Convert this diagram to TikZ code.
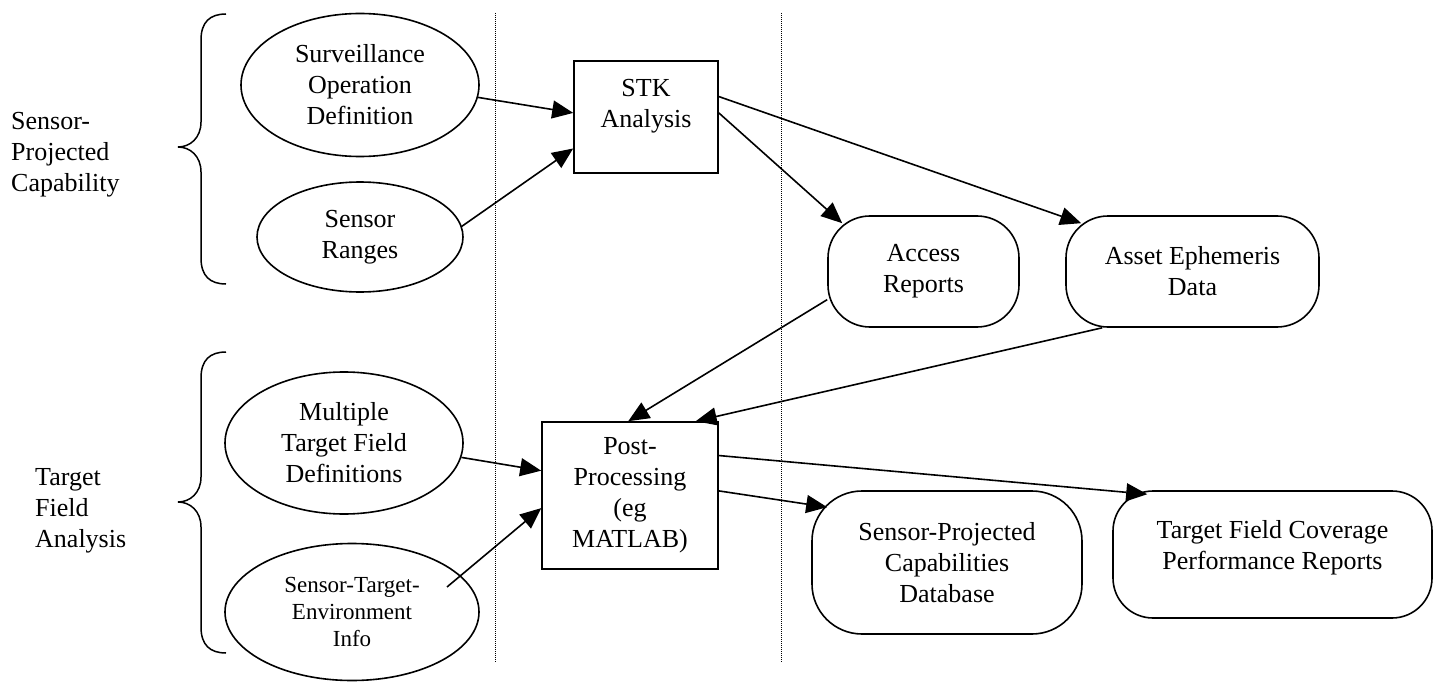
\documentclass[tikz,border=0pt]{standalone}
\usepackage{fontspec}
\setmainfont{Liberation Serif}
\usetikzlibrary{shapes.geometric,arrows.meta,calc}
\begin{document}
\begin{tikzpicture}[x=1pt,y=-1pt,
  every node/.style={font=\fontsize{26}{31}\selectfont, align=center},
  ell/.style={draw, ellipse, line width=1.6pt, inner sep=0pt},
  sqbox/.style={draw, rectangle, line width=1.6pt, inner sep=0pt},
  rbox/.style={draw, rectangle, rounded corners=42pt, line width=1.6pt, inner sep=0pt},
  conn/.style={line width=1.6pt, -{Triangle[length=21pt,width=18pt]}},
  sepline/.style={line width=0.9pt, dash pattern=on 1pt off 1pt},
  brc/.style={line width=1.5pt}]
\useasboundingbox (0,0) rectangle (1436,682);

% separators
\draw[sepline] (495,13) -- (495,663);
\draw[sepline] (781,13) -- (781,663);

% left labels
\node[anchor=west, align=left, inner sep=0pt] (lab1) at (11,155) {Sensor-\\Projected\\Capability};
\node[anchor=west, align=left, inner sep=0pt] (lab2) at (35,511) {Target\\Field\\Analysis};

% braces
\draw[brc] (226,14) .. controls (210,14) and (201,22) .. (201,40) -- (201,122)
  .. controls (201,138) and (190,147) .. (178,147)
  .. controls (190,147) and (201,156) .. (201,172) -- (201,258)
  .. controls (201,276) and (210,284) .. (226,284);
\draw[brc] (226,352) .. controls (210,352) and (201,360) .. (201,378) -- (201,477)
  .. controls (201,493) and (190,502) .. (178,502)
  .. controls (190,502) and (201,511) .. (201,527) -- (201,627)
  .. controls (201,645) and (210,653) .. (226,653);

% ellipses
\node[ell, minimum width=238pt, minimum height=143pt] (surv) at (360,85) {Surveillance\\Operation\\Definition};
\node[ell, minimum width=206pt, minimum height=110pt] (sr) at (360,237) {Sensor\\Ranges};
\node[ell, minimum width=238pt, minimum height=142pt] (mtf) at (344,443) {Multiple\\Target Field\\Definitions};
\node[ell, minimum width=254pt, minimum height=137pt, font=\fontsize{23}{27}\selectfont] (ste) at (352,612) {Sensor-Target-\\Environment\\Info};

% boxes
\node[sqbox, minimum width=144pt, minimum height=112pt] (stk) at (646,117) {};
\node (stktext) at (646,106) {STK\\Analysis};
\node[sqbox, minimum width=176pt, minimum height=147pt] (post) at (630,495.5) {Post-\\Processing\\(eg\\MATLAB)};
\node[rbox, minimum width=191pt, minimum height=111pt] (acc) at (923.5,271.5) {Access\\Reports};
\node[rbox, minimum width=253pt, minimum height=111pt] (ast) at (1192.5,271.5) {Asset Ephemeris\\Data};
\node[rbox, rounded corners=50pt, minimum width=270pt, minimum height=143pt] (db) at (947,562.5) {Sensor-Projected\\Capabilities\\Database};
\node[rbox, rounded corners=40pt, minimum width=319pt, minimum height=127pt] (tfc) at (1272.5,554.5) {};
\node (tfctext) at (1272.5,548) {Target Field Coverage\\Performance Reports};

% connectors
\draw[conn] (surv.-6) -- ($(stk.north west)!0.464!(stk.south west)$);
\draw[conn] (sr.6) -- ($(stk.north west)!0.777!(stk.south west)$);
\draw[conn] ($(stk.north east)!0.464!(stk.south east)$) -- ($(acc.north west)+(15,8)$);
\draw[conn] ($(stk.north east)!0.32!(stk.south east)$) -- ($(ast.north west)+(16,8)$);
\draw[conn] ($(acc.north west)!0.75!(acc.south west)$) -- ($(post.north west)!0.49!(post.north east)$);
\draw[conn] ($(ast.south west)+(37,0)$) -- ($(post.north west)!0.87!(post.north east)$);
\draw[conn] (mtf.-7) -- ($(post.north west)!0.333!(post.south west)$);
\draw[conn] ($(ste.center)+(95,-25)$) -- ($(post.north west)!0.585!(post.south west)$);
\draw[conn] ($(post.north east)!0.469!(post.south east)$) -- ($(db.north west)+(16,17)$);
\draw[conn] ($(post.north east)!0.231!(post.south east)$) -- ($(tfc.north west)+(35,4)$);
\end{tikzpicture}
\end{document}
